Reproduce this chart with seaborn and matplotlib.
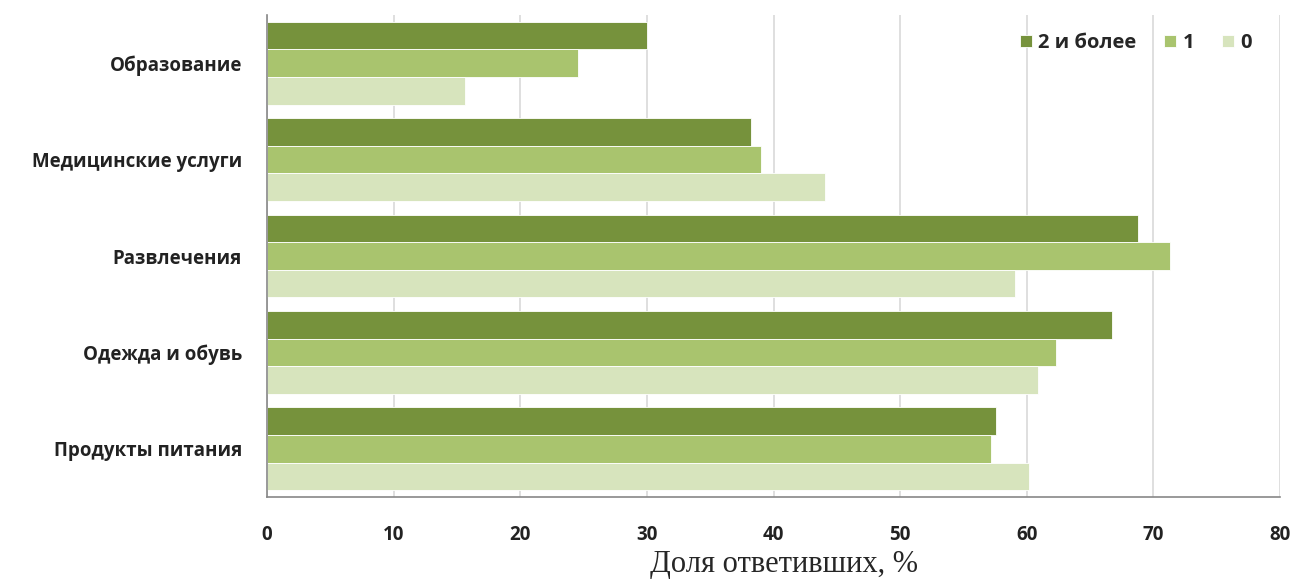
import pandas as pd
import matplotlib.pyplot as plt
import seaborn as sns

categories = ["Образование", "Медицинские услуги", "Развлечения", "Одежда и обувь", "Продукты питания"]
groups = ["2 и более", "1", "0"]
vals_2plus = [30.0, 38.2, 68.8, 66.7, 57.6]
vals_1 = [24.6, 39.0, 71.3, 62.3, 57.2]
vals_0 = [15.6, 44.1, 59.1, 60.9, 60.2]
colors = ["#76923c", "#a9c46e", "#d7e4bd"]

df = pd.DataFrame({
    "cat": categories * 3,
    "grp": [groups[0]] * 5 + [groups[1]] * 5 + [groups[2]] * 5,
    "val": vals_2plus + vals_1 + vals_0,
})

sns.set_style("white")
plt.rcParams["font.family"] = ["Open Sans", "DejaVu Sans"]

fig = plt.figure(figsize=(13, 5.8), dpi=100)
ax = fig.add_axes([267 / 1300, 83 / 580, 1013 / 1300, 482 / 580])

sns.barplot(data=df, y="cat", x="val", hue="grp", order=categories, hue_order=groups,
            palette=colors, orient="h", width=0.86, saturation=1, ax=ax, legend=True)

# light edge like the original bars
for p in ax.patches:
    p.set_edgecolor("white")
    p.set_linewidth(0.6)

ax.set_xlim(0, 80)
ax.set_ylim(4.5, -0.5)
ax.set_xticks(range(0, 81, 10))
ax.xaxis.grid(True, color="#d9d9d9", linewidth=1.2)
ax.set_axisbelow(True)

for s in ["top", "right"]:
    ax.spines[s].set_visible(False)
ax.spines["left"].set_color("#888888")
ax.spines["bottom"].set_color("#888888")
ax.spines["left"].set_linewidth(1.2)
ax.spines["bottom"].set_linewidth(1.2)

ax.tick_params(axis="y", which="major", length=0, pad=18, labelsize=13.5, labelcolor="#222222")
ax.set_yticks([-0.5, 0.5, 1.5, 2.5, 3.5, 4.5], minor=True)
ax.tick_params(axis="y", which="minor", length=5, color="#888888", direction="out")
ax.tick_params(axis="x", length=6, color="#888888", direction="out", labelsize=13.5, labelcolor="#222222", pad=14)
for lbl in ax.get_yticklabels() + ax.get_xticklabels():
    lbl.set_fontweight("bold")

ax.set_ylabel("")
ax.set_xlabel("Доля ответивших, %", family=["Liberation Serif", "DejaVu Serif"], fontsize=22)
ax.xaxis.set_label_coords(0.51, -0.11)
ax.xaxis.label.set_va("top")

leg = ax.legend(loc="upper right", ncol=3, frameon=False, fontsize=14.5, handlelength=0.6, handleheight=0.6,
                handletextpad=0.3, columnspacing=1.4, bbox_to_anchor=(0.99, 1.0))
for t in leg.get_texts():
    t.set_fontweight("bold")

plt.savefig("out.png")
